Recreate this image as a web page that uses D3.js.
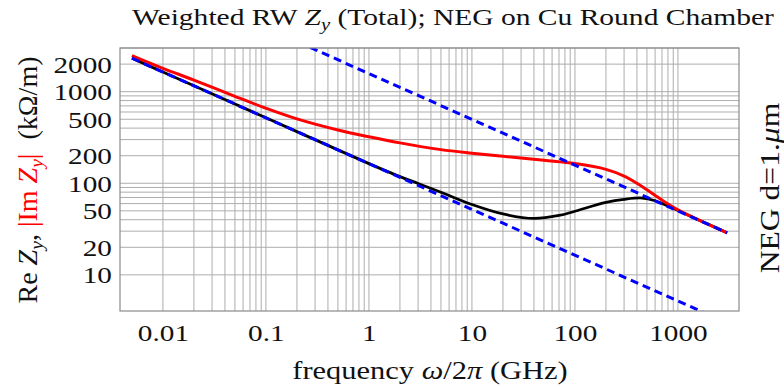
<!DOCTYPE html>
<html>
<head>
<meta charset="utf-8">
<script src="https://cdn.jsdelivr.net/npm/d3@7"></script>
<style>
  html, body { margin: 0; padding: 0; background: #fff; }
  svg { display: block; font-family: "Liberation Serif", "Times New Roman", serif; }
  text { white-space: pre; }
</style>
</head>
<body>
<svg id="chart" width="784" height="387"></svg>
<script>
// Re Z_y (black) — frequency in GHz, impedance in kΩ/m
const reFreq = [0.005, 0.01, 0.1, 1, 2, 3, 5, 10, 20, 40, 70, 100, 200, 300, 450, 600, 800, 1000, 1500, 2000, 3000];
const reZ    = [2319, 1640, 519, 164, 118.3, 99.4, 79.8, 58.6, 46.2, 41.3, 44.5, 49.5, 61.8, 66.8, 69, 64.5, 56.5, 50.5, 41, 35.4, 28.8];

// |Im Z_y| (red)
const imFreq = [0.005, 0.01, 0.02, 0.05, 0.1, 0.2, 0.5, 1, 2, 5, 10, 20, 50, 100, 200, 300, 400, 500, 700, 1000, 2000, 3000];
const imZ    = [2480, 1800, 1340, 890, 660, 505, 382, 322, 276, 233, 213, 197, 178, 164, 142, 120, 100, 85, 65.5, 51.3, 35.3, 28.8];

// Asymptotes (blue dashed), both ∝ f^(-1/2)
const lowAsymFreq  = [0.005, 3000];
const lowAsymZ     = [2319, 2.99];
const highAsymFreq = [0.005, 3000];
const highAsymZ    = [22300, 28.8];

// Axis ticks
const xTickValues = [0.01, 0.1, 1, 10, 100, 1000];
const xTickLabels = ["0.01", "0.1", "1", "10", "100", "1000"];
const yTickValues = [10, 20, 50, 100, 200, 500, 1000, 2000];
const yTickLabels = ["10", "20", "50", "100", "200", "500", "1000", "2000"];

const svg = d3.select("#chart");
const plot = { left: 120, right: 739, top: 48, bottom: 311 };
const textStretch = 1.22;

// x domain: data range padded by 2% on each side (log space)
const [fMin, fMax] = d3.extent(imFreq);
const lx0 = Math.log10(fMin), lx1 = Math.log10(fMax);
const padX = 0.02 * (lx1 - lx0);
const x = d3.scaleLog()
  .domain([10 ** (lx0 - padX), 10 ** (lx1 + padX)])
  .range([plot.left, plot.right]);
const y = d3.scaleLog()
  .domain([4.03, 3000])
  .range([plot.bottom, plot.top]);

// grid lines at 1..9 × 10^k
const xGrid = [];
for (let k = -2; k <= 2; k++) for (let m = 1; m <= 9; m++) xGrid.push(m * 10 ** k);
xGrid.push(1000);
const yGrid = [];
for (let k = 1; k <= 2; k++) for (let m = 1; m <= 9; m++) yGrid.push(m * 10 ** k);
yGrid.push(1000, 2000, 3000);

const grid = svg.append("g").attr("stroke", "#adadad").attr("stroke-width", 1);
grid.selectAll("line.gx").data(xGrid).join("line")
  .attr("class", "gx")
  .attr("x1", d => x(d)).attr("x2", d => x(d))
  .attr("y1", plot.top).attr("y2", plot.bottom);
grid.selectAll("line.gy").data(yGrid).join("line")
  .attr("class", "gy")
  .attr("x1", plot.left).attr("x2", plot.right)
  .attr("y1", d => y(d)).attr("y2", d => y(d));

// clip for curves
svg.append("defs").append("clipPath").attr("id", "plotClip")
  .append("rect")
  .attr("x", plot.left).attr("y", plot.top)
  .attr("width", plot.right - plot.left).attr("height", plot.bottom - plot.top);

const line = d3.line().x(d => x(d[0])).y(d => y(d[1])).curve(d3.curveCatmullRom.alpha(0.5));
const curves = svg.append("g").attr("clip-path", "url(#plotClip)").attr("fill", "none");

curves.append("path")
  .datum(d3.zip(reFreq, reZ))
  .attr("d", line)
  .attr("stroke", "#000").attr("stroke-width", 2.8);

curves.append("path")
  .datum(d3.zip(imFreq, imZ))
  .attr("d", line)
  .attr("stroke", "#ff0000").attr("stroke-width", 3);

const straight = d3.line().x(d => x(d[0])).y(d => y(d[1]));
[[lowAsymFreq, lowAsymZ], [highAsymFreq, highAsymZ]].forEach(([f, z]) => {
  curves.append("path")
    .datum(d3.zip(f, z))
    .attr("d", straight)
    .attr("stroke", "#0000ff").attr("stroke-width", 3)
    .attr("stroke-dasharray", "8,5");
});

// frame
svg.append("rect")
  .attr("x", plot.left).attr("y", plot.top)
  .attr("width", plot.right - plot.left).attr("height", plot.bottom - plot.top)
  .attr("fill", "none").attr("stroke", "#8a8a8a").attr("stroke-width", 1.2);

// axes
const xAxis = svg.append("g")
  .attr("transform", `translate(0,${plot.bottom})`)
  .call(d3.axisBottom(x).tickValues(xTickValues).tickFormat((d, i) => xTickLabels[i]).tickSize(0));
xAxis.select(".domain").remove();
xAxis.selectAll("text")
  .attr("y", null).attr("dy", null)
  .attr("transform", `translate(0,30) scale(${textStretch},1)`)
  .attr("font-size", 24).attr("font-family", "Liberation Serif").attr("fill", "#111");

const yAxis = svg.append("g")
  .attr("transform", `translate(${plot.left},0)`)
  .call(d3.axisLeft(y).tickValues(yTickValues).tickFormat((d, i) => yTickLabels[i]).tickSize(0));
yAxis.select(".domain").remove();
yAxis.selectAll("text")
  .attr("x", null).attr("dy", null)
  .attr("transform", `translate(-8,8) scale(${textStretch},1)`)
  .attr("font-size", 24).attr("font-family", "Liberation Serif").attr("fill", "#111");

// helper for labels made of styled pieces
function label(transform, size, pieces) {
  const t = svg.append("text")
    .attr("transform", transform)
    .attr("text-anchor", "middle")
    .attr("font-size", size)
    .attr("fill", "#111");
  pieces.forEach(p => {
    const s = t.append("tspan").text(p.t);
    if (p.i) s.attr("font-style", "italic");
    if (p.c) s.attr("fill", p.c);
    if (p.sub) s.attr("font-size", size * 0.7).attr("dy", size * 0.22);
    if (p.up) s.attr("dy", -size * 0.22);
  });
  return t;
}

// title
label(`translate(453,25) scale(1.23,1)`, 24, [
  { t: "Weighted RW " }, { t: "Z", i: true }, { t: "y", i: true, sub: true },
  { t: " (Total); NEG on Cu Round Chamber", up: true }
]);

// x-axis title
label(`translate(430,379) scale(${textStretch},1)`, 25, [
  { t: "frequency " }, { t: "ω", i: true }, { t: "/2" }, { t: "π", i: true }, { t: " (GHz)" }
]);

// y-axis title
label(`translate(37,180) rotate(-90)`, 28, [
  { t: "Re " }, { t: "Z", i: true }, { t: "y", i: true, sub: true },
  { t: ", ", up: true },
  { t: "|Im ", c: "#ff0000" }, { t: "Z", i: true, c: "#ff0000" }, { t: "y", i: true, sub: true, c: "#ff0000" },
  { t: "|", c: "#ff0000", up: true }, { t: "  (kΩ/m)" }
]);

// right-hand annotation
label(`translate(779,188) rotate(-90) scale(1.17,1)`, 27, [
  { t: "NEG d=1." }, { t: "μ", i: true }, { t: "m" }
]);
</script>
</body>
</html>
